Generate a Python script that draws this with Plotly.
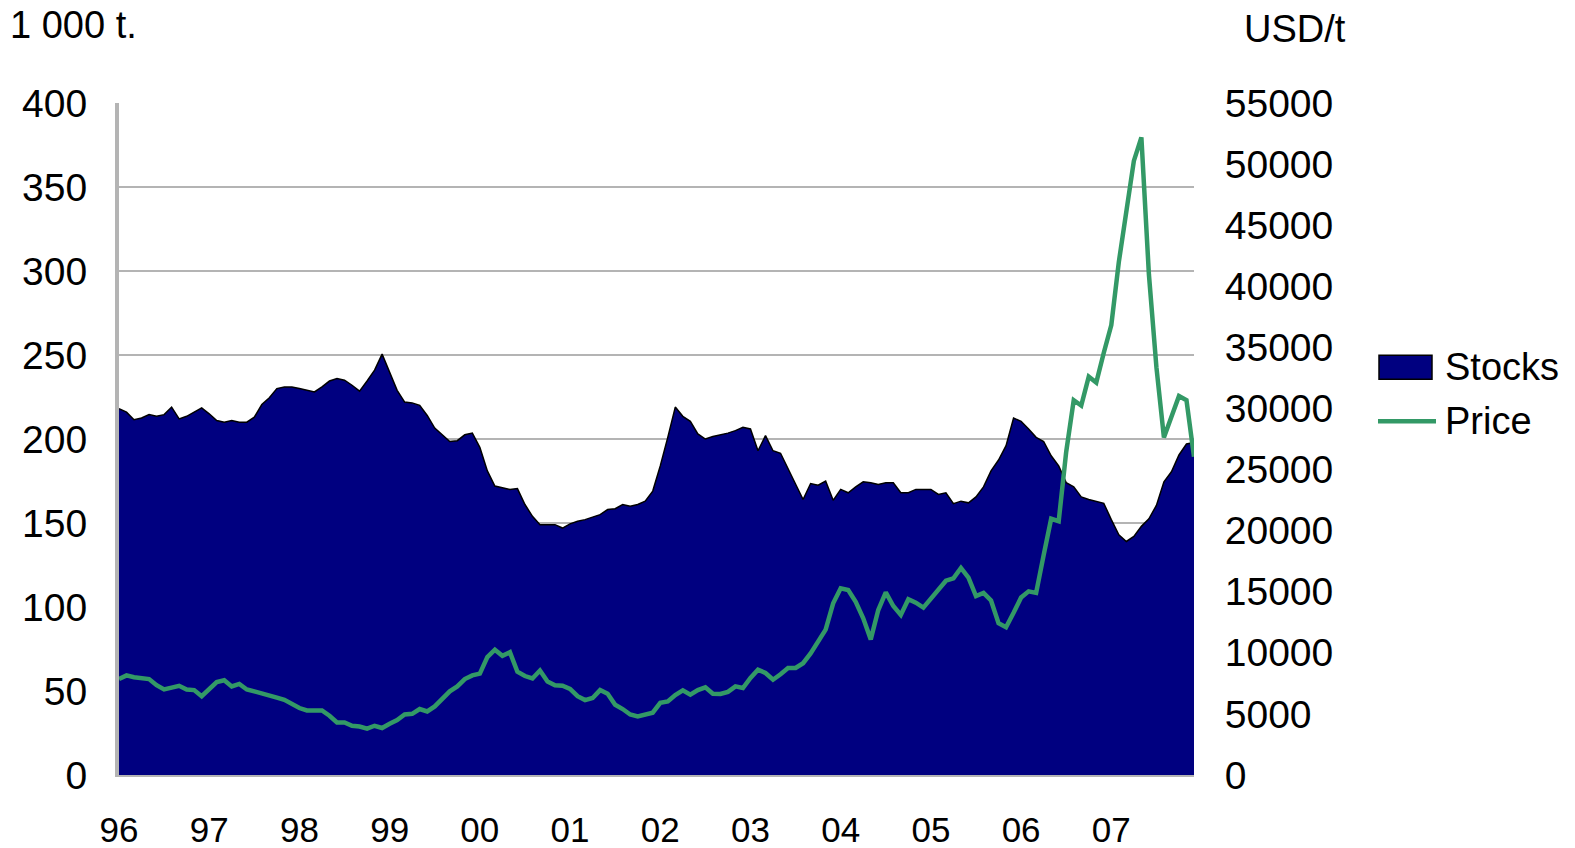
import plotly.graph_objects as go

years = list(range(1996, 2008))
months = [f"{y}-{m:02d}" for y in years for m in range(1, 13)]
year_ticks = [f"{y}-01" for y in years]
year_labels = [f"{y % 100:02d}" for y in years]

stocks = [
    218, 216, 211.5, 212.5, 214.5, 213.5, 214.5, 219, 212, 213.5, 216, 218.5,
    215, 211, 210, 211, 210, 210, 213, 220.5, 224.5, 230, 231, 231,
    230, 229, 228, 231, 234.5, 236, 235, 232, 228.5, 234.5, 241, 250.5,
    240, 229, 222, 221.5, 220, 214, 206.5, 202.5, 198.5, 199, 202.5, 203.5,
    195, 181, 172, 171, 170, 170.5, 161, 154, 149, 149, 149, 147,
    149.5, 151, 152, 153.5, 155, 158, 158.5, 161, 160, 161, 163, 169,
    184, 201, 219, 213.5, 210.5, 203, 200, 201.5, 202.5, 203.5, 205, 207,
    206, 193, 202, 193, 191.5, 182, 173, 164, 173.5, 172.5, 175, 163.5,
    170, 168, 171.5, 174.5, 174, 173, 174, 174, 168, 168, 170, 170,
    170, 167, 168, 161.5, 163, 162, 165.5, 171.5, 181, 187.5, 196, 212.5,
    210.5, 206, 201, 198.5, 190, 184, 174, 171.5, 165.5, 164, 163, 161.7,
    152, 143, 139, 142, 148, 152.5, 160.5, 174.5, 180.5, 190.5, 197, 198,
]

price = [
    7850, 8150, 8000, 7950, 7850, 7350, 7000, 7150, 7300, 7000, 6950, 6450,
    7000, 7600, 7750, 7250, 7450, 7000, 6850, 6650, 6500, 6330, 6160, 5810,
    5480, 5280, 5280, 5280, 4850, 4300, 4300, 4030, 3970, 3800, 4030, 3850,
    4200, 4500, 4950, 5010, 5400, 5200, 5610, 6250, 6850, 7250, 7850, 8150,
    8300, 9650, 10250, 9750, 10050, 8450, 8100, 7900, 8550, 7650, 7350, 7310,
    7050, 6450, 6130, 6300, 6950, 6650, 5750, 5400, 4950, 4800, 4950, 5100,
    5900, 6020, 6550, 6930, 6570, 6950, 7170, 6650, 6630, 6800, 7250, 7120,
    7940, 8620, 8350, 7800, 8250, 8750, 8760, 9150, 9950, 10900, 11900, 14050,
    15280, 15140, 14180, 12820, 11100, 13500, 14950, 13830, 13100, 14380, 14100, 13700,
    14400, 15200, 15900, 16100, 16950, 16150, 14650, 14900, 14280, 12430, 12090, 13270,
    14530, 15030, 14900, 18000, 20970, 20770, 26450, 30670, 30230, 32600, 32120, 34560,
    36820, 41990, 46380, 50260, 52190, 40980, 33380, 27630, 29320, 31010, 30670, 26050,
]

NAVY = "#000080"
GREEN = "#339966"
GRAY = "#b4b4b4"
FONT = "Liberation Sans, Arial, sans-serif"

W, H = 1575, 848
L, R, T, B = 119, 1575 - 1194, 102.5, 848 - 775
pw, ph = W - L - R, H - T - B

def px(x):
    return (x - L) / pw

def py(y):
    return (H - B - y) / ph

fig = go.Figure()
fig.add_trace(go.Scatter(
    x=months, y=stocks, name="Stocks", mode="lines",
    fill="tozeroy", fillcolor=NAVY, line=dict(color="black", width=1.5),
    showlegend=False,
))
fig.add_trace(go.Scatter(
    x=months, y=price, name="Price", mode="lines", yaxis="y2",
    line=dict(color=GREEN, width=4.5), showlegend=False,
))

fig.update_layout(
    width=W, height=H,
    margin=dict(l=L, r=R, t=T, b=B, autoexpand=False),
    paper_bgcolor="white", plot_bgcolor="white",
    font=dict(family=FONT, size=38, color="black"),
    xaxis=dict(
        type="category", range=[0, len(months) - 1], automargin=False,
        tickmode="array", tickvals=year_ticks, ticktext=year_labels,
        tickfont=dict(size=35),
        showgrid=False, showline=True, linecolor=GRAY, linewidth=2,
        ticks="outside", ticklen=23, tickcolor="rgba(0,0,0,0)",
        zeroline=False,
    ),
    yaxis=dict(
        range=[0, 400], dtick=50, showgrid=True, gridcolor=GRAY, gridwidth=2,
        showline=True, linecolor=GRAY, linewidth=4, automargin=False,
        tickfont=dict(size=39),
        ticks="outside", ticklen=20, tickcolor="rgba(0,0,0,0)",
        zeroline=False,
    ),
    yaxis2=dict(
        range=[0, 55000], dtick=5000, overlaying="y", side="right",
        showgrid=False, showline=False, zeroline=False, automargin=False,
        tickformat="d", tickfont=dict(size=39),
        ticks="outside", ticklen=22, tickcolor="rgba(0,0,0,0)",
    ),
    shapes=[
        dict(type="line", xref="x", yref="y",
             x0=months[-1], x1=months[-1], y0=0, y1=stocks[-1],
             line=dict(color="black", width=1.5), layer="below"),
        dict(type="rect", xref="paper", yref="paper",
             x0=px(1379), x1=px(1432), y0=py(379), y1=py(355),
             fillcolor=NAVY, line=dict(color="black", width=1.5)),
        dict(type="line", xref="paper", yref="paper",
             x0=px(1378), x1=px(1436), y0=py(421), y1=py(421),
             line=dict(color=GREEN, width=4.5)),
    ],
    annotations=[
        dict(text="1 000 t.", xref="paper", yref="paper", x=px(8), y=py(24.5),
             xanchor="left", yanchor="middle", showarrow=False),
        dict(text="USD/t", xref="paper", yref="paper", x=px(1242), y=py(28.5),
             xanchor="left", yanchor="middle", showarrow=False),
        dict(text="Stocks", xref="paper", yref="paper", x=px(1443), y=py(367),
             xanchor="left", yanchor="middle", showarrow=False),
        dict(text="Price", xref="paper", yref="paper", x=px(1443), y=py(421),
             xanchor="left", yanchor="middle", showarrow=False),
    ],
)

fig.write_html(
    "out.html",
    config={"displayModeBar": False},
    post_script="document.body.style.margin='0';document.body.style.overflow='hidden';",
)
